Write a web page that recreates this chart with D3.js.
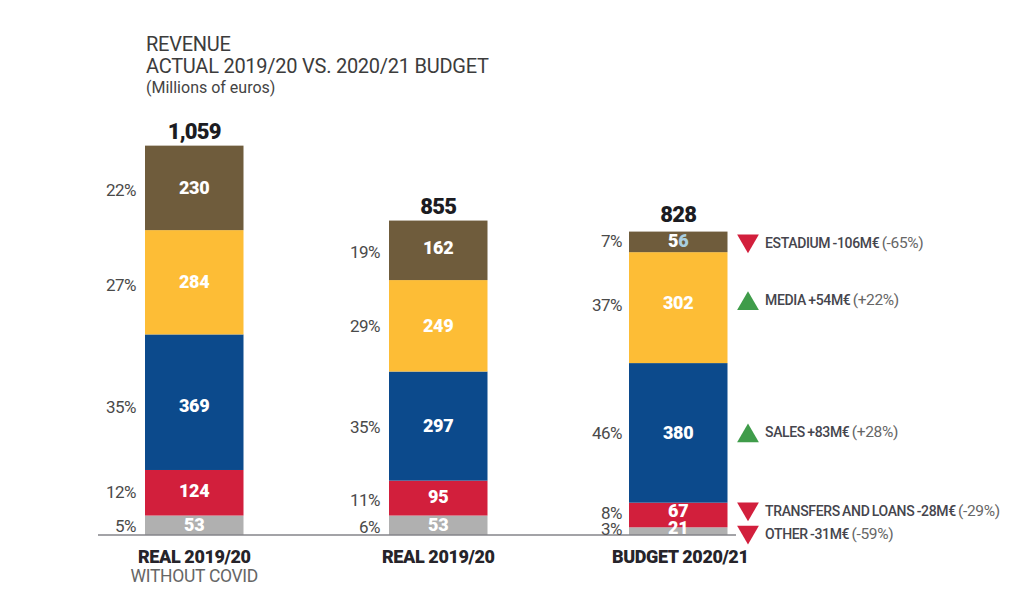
<!DOCTYPE html>
<html>
<head>
<meta charset="utf-8">
<title>Revenue actual vs budget</title>
<script src="https://cdn.jsdelivr.net/npm/d3@7"></script>
<style>
  html, body { margin: 0; background: #fff; }
  svg { display: block; }
  text { font-family: Roboto, sans-serif; }
  .title { font-size: 20px; fill: #3c3c3c; letter-spacing: -0.25px; }
  .sub { font-size: 16px; fill: #444; }
  .total { font-size: 22px; font-weight: 900; fill: #1c1c22; letter-spacing: -0.8px; }
  .val { font-size: 18px; font-weight: 900; fill: #fff; letter-spacing: -0.2px; }
  .pct { font-size: 17px; fill: #4a4a4a; letter-spacing: -0.5px; }
  .cat { font-size: 18px; font-weight: 900; fill: #26242a; letter-spacing: -0.4px; }
  .cat2 { font-size: 17.5px; fill: #666; letter-spacing: -0.3px; }
  .note { font-size: 14px; font-weight: 500; fill: #45454d; letter-spacing: -0.35px; word-spacing: -0.8px; }
  .note tspan { font-size: 15.5px; font-weight: 400; fill: #666; }
</style>
</head>
<body>
<svg id="chart" width="1024" height="612"></svg>
<script>
var bars = ['covid', 'real', 'budget'];
var barLabels = ['REAL 2019/20', 'REAL 2019/20', 'BUDGET 2020/21'];
var totals = ['1,059', '855', '828'];
var segments = ['other', 'transfers', 'sales', 'media', 'stadium'];

var other = [53, 53, 21];
var transfers = [124, 95, 67];
var sales = [369, 297, 380];
var media = [284, 249, 302];
var stadium = [230, 162, 56];

var pctOther = ['5%', '6%', '3%'];
var pctTransfers = ['12%', '11%', '8%'];
var pctSales = ['35%', '35%', '46%'];
var pctMedia = ['27%', '29%', '37%'];
var pctStadium = ['22%', '19%', '7%'];

var noteNames = ['OTHER -31M€', 'TRANSFERS AND LOANS -28M€', 'SALES +83M€', 'MEDIA +54M€', 'ESTADIUM -106M€'];
var notePcts = ['(-59%)', '(-29%)', '(+28%)', '(+22%)', '(-65%)'];
var noteUp = [false, false, true, true, false];

var svg = d3.select('#chart');

var colors = d3.scaleOrdinal().domain(segments)
  .range(['#b0b0b0', '#d21f3c', '#0c4a8c', '#fdbd36', '#6f5c3c']);

var x = d3.scaleOrdinal().domain(bars).range([145, 389, 629]);
var barW = 98.5;
var y = d3.scaleLinear().domain([0, 1059]).range([535, 146]);

var table = bars.map(function(b, i) {
  return { bar: b, other: other[i], transfers: transfers[i], sales: sales[i], media: media[i], stadium: stadium[i] };
});
var series = d3.stack().keys(segments)(table);
var pcts = [pctOther, pctTransfers, pctSales, pctMedia, pctStadium];

// label nudges from the segment middle, the source is hand placed
var pctNudge = [[1, 2, -2], [-1, 2, -2], [5, 1, 0], [3, 0, -3], [2, 2, -1]];
var valNudge = [[0, 0, -3], [-2, -1, -4], [4, 0, 0], [0, 0, -5], [0, -2, -1]];
var noteNudge = [3, -4, -1, -8, 1];
var totalNudge = [0, 0, -3];
var catNudge = [0, 0, 2];

// rects first, the labels of thin segments stick out over their neighbours
series.forEach(function(s) {
  svg.append('g').selectAll('rect').data(s).join('rect')
    .attr('x', function(d) { return x(d.data.bar); })
    .attr('width', barW)
    .attr('y', function(d) { return y(d[1]); })
    .attr('height', function(d) { return y(d[0]) - y(d[1]); })
    .attr('fill', colors(s.key));
});

svg.append('line')
  .attr('x1', 98).attr('x2', 736).attr('y1', y(0)).attr('y2', y(0))
  .attr('stroke', '#85858a').attr('stroke-width', 1.5);

series.forEach(function(s, k) {
  var g = svg.append('g');
  g.selectAll('text.val').data(s).join('text')
    .attr('class', 'val')
    .attr('x', function(d) { return x(d.data.bar) + barW / 2; })
    .attr('y', function(d, i) { return (y(d[0]) + y(d[1])) / 2 + 6 + valNudge[k][i]; })
    .attr('text-anchor', 'middle')
    .text(function(d) { return d.data[s.key]; });

  g.selectAll('text.pct').data(s).join('text')
    .attr('class', 'pct')
    .attr('x', function(d) { return x(d.data.bar) - (d.data.bar == 'budget' ? 7 : 9); })
    .attr('y', function(d, i) { return (y(d[0]) + y(d[1])) / 2 + 6 + pctNudge[k][i]; })
    .attr('text-anchor', 'end')
    .text(function(d, i) { return pcts[k][i]; });

  // annotations only sit next to the budget bar
  var last = s[2];
  var noteY = (y(last[0]) + y(last[1])) / 2 + noteNudge[k];
  var tri = d3.symbol(d3.symbolTriangle, 205);
  svg.append('path')
    .attr('d', tri())
    .attr('transform', 'translate(748,' + (noteY + (noteUp[k] ? 4.2 : -2.2)) + ') rotate(' + (noteUp[k] ? 0 : 180) + ')')
    .attr('fill', noteUp[k] ? '#3f9c4a' : '#d21f3c');
  var t = svg.append('text').attr('class', 'note')
    .attr('x', 765).attr('y', noteY + 5).text(noteNames[k] + ' ');
  t.append('tspan').text(notePcts[k]);
});

// the 6 of the 56 label is tinted in the source
var fiftySix = svg.selectAll('text.val').filter(function() { return this.textContent == '56'; });
fiftySix.text('5').append('tspan').attr('fill', '#a9cfe0').text('6');

svg.selectAll('text.total').data(bars).join('text')
  .attr('class', 'total')
  .attr('x', function(d) { return x(d) + barW / 2; })
  .attr('y', function(d, i) { return y(series[4][i][1]) - 7 + totalNudge[i]; })
  .attr('text-anchor', 'middle')
  .text(function(d, i) { return totals[i]; });

svg.selectAll('text.cat').data(bars).join('text')
  .attr('class', 'cat')
  .attr('x', function(d, i) { return x(d) + barW / 2 + catNudge[i]; })
  .attr('y', 563)
  .attr('text-anchor', 'middle')
  .text(function(d, i) { return barLabels[i]; });

svg.append('text').attr('class', 'cat2')
  .attr('x', x('covid') + barW / 2).attr('y', 582)
  .attr('text-anchor', 'middle').text('WITHOUT COVID');

svg.append('text').attr('class', 'title').attr('x', 146).attr('y', 51).text('REVENUE');
svg.append('text').attr('class', 'title').attr('x', 146).attr('y', 73).text('ACTUAL 2019/20 VS. 2020/21 BUDGET');
svg.append('text').attr('class', 'sub').attr('x', 146).attr('y', 93).text('(Millions of euros)');
</script>
</body>
</html>
